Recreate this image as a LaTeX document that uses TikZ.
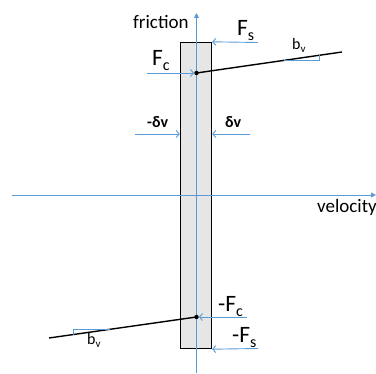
\documentclass[tikz,border=0pt]{standalone}
\usepackage{fontspec}
\setmainfont{Carlito}
\usetikzlibrary{arrows.meta,calc}
\definecolor{axisblue}{RGB}{91,155,213}
\definecolor{boxgray}{RGB}{230,230,230}
\newcommand{\sbs}[1]{\raisebox{-5pt}{\fontsize{16}{16}\selectfont #1}}
\newcommand{\sbv}{\raisebox{-3pt}{\fontsize{11}{11}\selectfont v}}
\begin{document}
\begin{tikzpicture}[x=1pt,y=-1pt,
  axis/.style={draw=axisblue, line width=0.9pt, -{Triangle[length=5pt,width=5pt]}},
  force/.style={draw=axisblue, line width=0.9pt, -{Straight Barb[length=3pt,width=7pt]}},
  slope/.style={draw=axisblue, line width=1pt},
  curve/.style={draw=black, line width=1.4pt},
  dotn/.style={circle, fill=black, inner sep=0pt, minimum size=4.5pt},
  big/.style={inner sep=0pt, anchor=base west, font=\fontsize{23.5}{23.5}\selectfont},
  axlbl/.style={inner sep=0pt, anchor=base west, font=\fontsize{19}{19}\selectfont},
  small/.style={inner sep=0pt, anchor=base west, font=\fontsize{16}{16}\selectfont},
  dv/.style={inner sep=0pt, anchor=base west, font=\fontsize{16}{16}\selectfont\bfseries}]
\useasboundingbox (0,0) rectangle (376,374);
% box
\node[draw, fill=boxgray, line width=1.4pt, minimum width=31pt, minimum height=306pt, inner sep=0pt] (box) at (196,195.5) {};
% axes
\coordinate (yb) at (196.5,373);
\coordinate (yt) at (196.5,13);
\coordinate (xl) at (12,195);
\coordinate (xr) at (376,195);
\draw[axis] (yb) -- (yt);
\draw[axis] (xl) -- (xr);
\node[axlbl] (fric) at (133,29) {friction};
\node[axlbl] (vel) at (317,213) {velocity};
% dots and viscous lines
\node[dotn] (dtop) at (196.5,73) {};
\node[dotn] (dbot) at (196.5,317) {};
\coordinate (ltr) at (342,52);
\coordinate (lend) at (49,338);
\draw[curve] (dtop.center) -- (ltr);
\draw[curve] (dbot.center) -- (lend);
% slope triangles
\coordinate (ta) at ($(dtop.center)!0.601!(ltr)$);
\coordinate (tc) at ($(dtop.center)!0.842!(ltr)$);
\draw[slope] (ta) -- (ta -| tc) -- (tc);
\coordinate (ba) at ($(dbot.center)!0.586!(lend)$);
\coordinate (bc) at ($(dbot.center)!0.837!(lend)$);
\draw[slope] (ba) -- (ba -| bc) -- (bc);
\node[small] (bvt) at (292,50) {b\sbv};
\node[small] (bvb) at (87,345) {b\sbv};
% force arrows
\coordinate (fss) at (258,42.5);
\draw[force] (fss) -- (box.north east);
\coordinate (fcs) at (147,73);
\draw[force] (fcs) -- (dtop);
\coordinate (mfcs) at (247,317);
\draw[force] (mfcs) -- (dbot);
\coordinate (mfss) at (258,348.5);
\draw[force] (mfss) -- (box.south east);
\coordinate (dvl) at (135,134);
\draw[force] (dvl) -- (dvl -| box.west);
\coordinate (dvr) at (250,134);
\draw[force] (dvr) -- (dvr -| box.east);
% labels
\node[big] (lfs) at (237,36) {F\sbs{s}};
\node[big] (lfc) at (152,66) {F\sbs{c}};
\node[big] (lmfc) at (218,312) {-F\sbs{c}};
\node[big] (lmfs) at (232,343) {-F\sbs{s}};
\node[dv] (ldvl) at (147,128) {-δv};
\node[dv] (ldvr) at (225,128) {δv};
\end{tikzpicture}
\end{document}
